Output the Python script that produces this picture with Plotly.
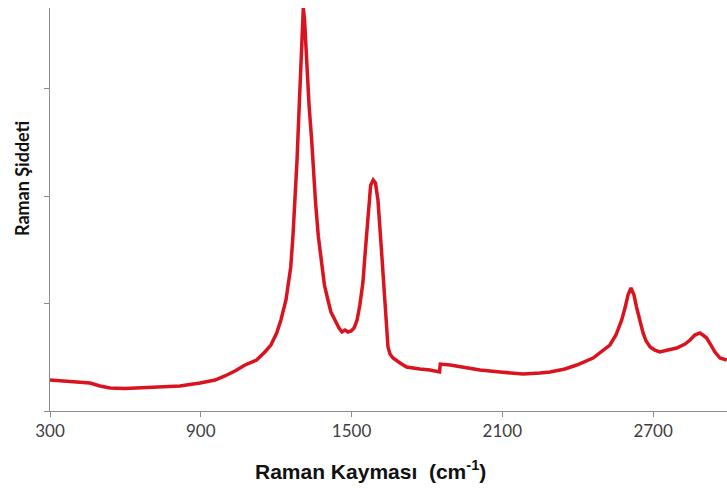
import plotly.graph_objects as go

# Raman shift (cm^-1) and intensity (arbitrary units)
raman_shift = [300, 340, 399, 459, 499, 539, 598, 658, 738, 817, 897, 957, 996, 1036,
               1076, 1122, 1155, 1179, 1202, 1219, 1239, 1249, 1258, 1267, 1275, 1283,
               1291, 1299, 1304, 1308, 1313, 1321, 1331, 1341, 1348, 1357, 1368, 1381,
               1392, 1406, 1418, 1434, 1450, 1462, 1474, 1486, 1498, 1510, 1522, 1533,
               1545, 1555, 1565, 1576, 1586, 1595, 1605, 1613, 1619, 1627, 1633, 1639,
               1645, 1653, 1665, 1693, 1719, 1772, 1812, 1850, 1853, 1892, 1958, 2011,
               2091, 2182, 2250, 2290, 2349, 2396, 2461, 2488, 2528, 2552, 2575, 2588,
               2600, 2612, 2624, 2634, 2648, 2660, 2672, 2688, 2707, 2727, 2759, 2794,
               2827, 2847, 2866, 2886, 2898, 2913, 2930, 2946, 2966, 2993]
intensity = [0.288, 0.279, 0.270, 0.260, 0.233, 0.214, 0.209, 0.214, 0.223, 0.233, 0.260,
             0.288, 0.326, 0.372, 0.428, 0.474, 0.549, 0.614, 0.726, 0.847, 1.033, 1.172,
             1.340, 1.637, 1.963, 2.335, 2.800, 3.200, 3.544, 3.750, 3.637, 3.200, 2.840,
             2.530, 2.250, 1.930, 1.620, 1.340, 1.172, 1.033, 0.921, 0.847, 0.772, 0.735,
             0.753, 0.735, 0.744, 0.772, 0.847, 0.986, 1.191, 1.498, 1.805, 2.102, 2.149,
             2.121, 1.963, 1.730, 1.498, 1.219, 1.033, 0.800, 0.595, 0.530, 0.493, 0.447,
             0.409, 0.391, 0.381, 0.363, 0.437, 0.428, 0.400, 0.381, 0.363, 0.344, 0.353,
             0.363, 0.391, 0.428, 0.493, 0.540, 0.614, 0.707, 0.847, 0.958, 1.079, 1.144,
             1.079, 0.967, 0.828, 0.726, 0.651, 0.595, 0.567, 0.549, 0.567, 0.586, 0.623,
             0.660, 0.707, 0.726, 0.707, 0.679, 0.614, 0.549, 0.493, 0.474]

x_ticks = [300, 900, 1500, 2100, 2700]
y_ticks = [0, 1, 2, 3]

x_title = "Raman Kayması  (cm<sup>-1</sup>)"
y_title = "Raman Şiddeti"

fig = go.Figure()
fig.add_trace(go.Scatter(
    x=raman_shift, y=intensity, mode="lines",
    line=dict(color="#d9141e", width=3.5),
    hoverinfo="skip", showlegend=False,
))

fig.update_layout(
    width=727, height=489,
    margin=dict(l=50, r=0, t=8, b=78),
    paper_bgcolor="white", plot_bgcolor="white",
    font=dict(family="Lato, 'Open Sans', sans-serif", color="#404040"),
    xaxis=dict(
        range=[300, 2994], tickvals=x_ticks, ticktext=[str(v) for v in x_ticks],
        showgrid=False, zeroline=False, showline=True, linecolor="#8c8c8c", linewidth=1,
        ticks="outside", ticklen=5, tickcolor="#8c8c8c",
        tickfont=dict(size=17, color="#404040"),
    ),
    yaxis=dict(
        range=[0, 3.75], tickvals=y_ticks, showticklabels=False,
        showgrid=False, zeroline=False, showline=True, linecolor="#8c8c8c", linewidth=1,
        ticks="outside", ticklen=5, tickcolor="#8c8c8c",
    ),
    annotations=[
        dict(text=x_title, xref="paper", yref="paper", x=0.4727, y=-0.1464,
             xanchor="center", yanchor="middle", showarrow=False,
             font=dict(size=21, color="#111111", family="'Liberation Sans', Arial, sans-serif",
                       weight="bold")),
        dict(text=y_title, xref="paper", yref="paper", x=-0.0414, y=0.578,
             xanchor="center", yanchor="middle", showarrow=False, textangle=-90,
             font=dict(size=18, color="#111111", family="Lato, sans-serif", weight="bold")),
    ],
)

fig.write_html("out.html")
